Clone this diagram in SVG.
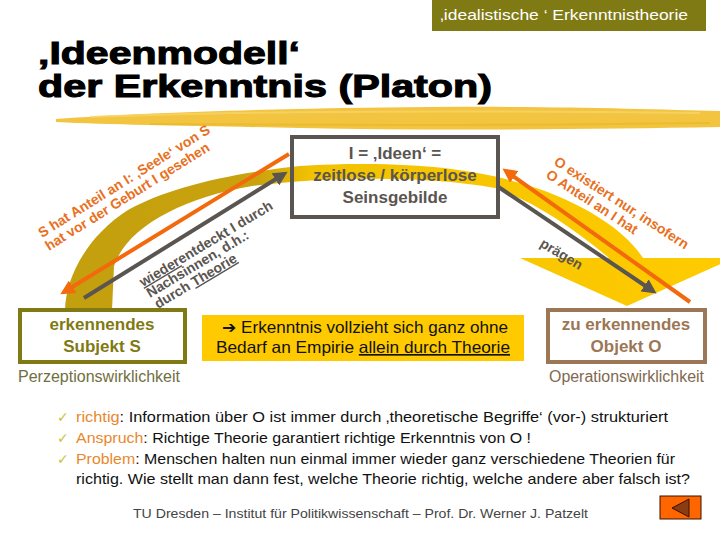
<svg xmlns="http://www.w3.org/2000/svg" width="720" height="540" viewBox="0 0 720 540">
<style>
.title{font-family:"Liberation Sans",Arial,sans-serif;font-weight:bold;font-size:32px;fill:#000;stroke:#000;stroke-width:1.1px}
.rot{font-family:"Liberation Sans",Arial,sans-serif;font-weight:bold;font-size:14px}
.org{fill:#e8701e}
.gry{fill:#5a5550}
.boxt{font-family:"Liberation Sans",Arial,sans-serif;font-weight:bold;font-size:17px;text-anchor:middle}
.body{font-family:"Liberation Sans",Arial,sans-serif;font-size:15px;fill:#111}
.hl{fill:#e8882c}
.chk{font-family:"DejaVu Sans",sans-serif;font-size:14px;fill:#c8c43c}
.wk{font-family:"Liberation Sans",Arial,sans-serif;font-size:16px}
.ul{text-decoration:underline}
</style>
<defs>
<linearGradient id="arcg" gradientUnits="userSpaceOnUse" x1="60" y1="0" x2="720" y2="0">
<stop offset="0" stop-color="#c49f0e"/>
<stop offset="0.3" stop-color="#c9a30e"/>
<stop offset="0.38" stop-color="#f2c200"/>
<stop offset="1" stop-color="#ffcb00"/>
</linearGradient>
<marker id="ao" viewBox="0 0 10 10" refX="7" refY="5" markerWidth="3.6" markerHeight="3.6" orient="auto"><path d="M0,0 L10,5 L0,10 z" fill="#f26a0c"/></marker>
<marker id="ag" viewBox="0 0 10 10" refX="7" refY="5" markerWidth="3.6" markerHeight="3.6" orient="auto"><path d="M0,0 L10,5 L0,10 z" fill="#5a5550"/></marker>
</defs>

<!-- header tab -->
<g id="header">
<rect x="432" y="0" width="274" height="31" fill="#7f7a14"/>
<text x="440" y="20" font-family="'Liberation Sans',Arial,sans-serif" font-size="15" fill="#fff" textLength="248" lengthAdjust="spacingAndGlyphs">‚idealistische ‘ Erkenntnistheorie</text>
</g>

<!-- title -->
<g id="title">
<text class="title" x="38" y="64" textLength="262" lengthAdjust="spacingAndGlyphs">‚Ideenmodell‘</text>
<text class="title" x="38" y="97" textLength="454" lengthAdjust="spacingAndGlyphs">der Erkenntnis (Platon)</text>
</g>

<!-- brush stroke -->
<g id="brush">
<path d="M56,119 C150,112 300,108 430,107 C550,106 650,109 720,111 L720,127 C600,129 450,131 300,128 C200,126 120,125 56,122 Z" fill="#f2c440"/>
<path d="M90,117 C250,111 450,110 700,113" stroke="#f7d468" stroke-width="2" fill="none" opacity="0.8"/>
<path d="M150,124 C300,125 500,126 710,123" stroke="#e8b82a" stroke-width="2" fill="none" opacity="0.7"/>
</g>

<!-- big curved arrow -->
<g id="arc">
<path d="M65,310 C66,274 90,234 128,210 C168,188 226,174 300,166 C400,160 470,168 520,183 C570,197 622,225 643,258 L734,258 L627,306 L520,258 L609,258 C570,225 530,200 495,188 C430,176 330,176 252,186 C182,198 127,227 114,266 L112,310 Z" fill="url(#arcg)"/>
</g>

<!-- nodes -->
<g id="ideen">
<rect x="292" y="137" width="206" height="80" fill="none" stroke="#5a5550" stroke-width="4"/>
<text class="boxt gry" x="395" y="159" font-size="18">I = ‚Ideen‘ =</text>
<text class="boxt gry" x="395" y="181" font-size="18">zeitlose / körperlose</text>
<text class="boxt gry" x="395" y="203" font-size="18">Seinsgebilde</text>
</g>

<g id="subjekt">
<rect x="20" y="310" width="165" height="52" fill="#fff" stroke="#7f7a14" stroke-width="4"/>
<text class="boxt" x="102" y="330" fill="#7f7a14">erkennendes</text>
<text class="boxt" x="102" y="352" fill="#7f7a14">Subjekt S</text>
<text class="wk" x="18" y="382" fill="#707040" textLength="162" lengthAdjust="spacingAndGlyphs">Perzeptionswirklichkeit</text>
</g>

<g id="objekt">
<rect x="548" y="310" width="157" height="52" fill="#fff" stroke="#9c7655" stroke-width="4"/>
<text class="boxt" x="626" y="330" fill="#9c7655">zu erkennendes</text>
<text class="boxt" x="626" y="352" fill="#9c7655">Objekt O</text>
<text class="wk" x="704" y="382" fill="#80694e" text-anchor="end" textLength="155" lengthAdjust="spacingAndGlyphs">Operationswirklichkeit</text>
</g>

<g id="empirie">
<rect x="202" y="315" width="322" height="46" fill="#ffcb00"/>
<text x="222" y="333" font-family="'Liberation Sans','DejaVu Sans',Arial,sans-serif" font-size="16.5" fill="#111" textLength="286" lengthAdjust="spacingAndGlyphs">➔ Erkenntnis vollzieht sich ganz ohne</text>
<text x="216" y="353" font-family="'Liberation Sans',Arial,sans-serif" font-size="16.5" fill="#111" textLength="294" lengthAdjust="spacingAndGlyphs">Bedarf an Empirie <tspan class="ul">allein durch Theorie</tspan></text>
</g>

<!-- connectors -->
<g id="connectors" fill="none" stroke-width="4">
<path d="M289,154 L64,292" stroke="#f26a0c" marker-end="url(#ao)"/>
<path d="M84,298 L284,174" stroke="#5a5550" marker-end="url(#ag)"/>
<path d="M690,302 L506,171" stroke="#f26a0c" marker-end="url(#ao)"/>
<path d="M497,186 L653,291" stroke="#5a5550" marker-end="url(#ag)"/>
</g>

<!-- connector labels -->
<g id="label-s" class="rot org">
<text transform="translate(42,238) rotate(-32)">S hat Anteil an I: ‚Seele‘ von S</text>
<text transform="translate(49,251) rotate(-32)">hat vor der Geburt I gesehen</text>
</g>
<g id="label-w" class="rot gry">
<text transform="translate(143,287) rotate(-31)"><tspan class="ul">wieder</tspan>entdeckt I durch</text>
<text transform="translate(150,298) rotate(-31)">Nachsinnen, d.h.:</text>
<text transform="translate(158,309) rotate(-31)">durch <tspan class="ul">Theorie</tspan></text>
</g>
<g id="label-o" class="rot org">
<text transform="translate(553,164) rotate(33)">O existiert nur, insofern</text>
<text transform="translate(545,177) rotate(33)">O Anteil an I hat</text>
</g>
<g id="label-p" class="rot gry">
<text transform="translate(539,246) rotate(31)">prägen</text>
</g>

<!-- bullets -->
<g id="bullets">
<text class="chk" x="57" y="422">✓</text>
<text class="chk" x="57" y="443">✓</text>
<text class="chk" x="57" y="464">✓</text>
<text class="body" x="76" y="422" textLength="592" lengthAdjust="spacingAndGlyphs"><tspan class="hl">richtig</tspan>: Information über O ist immer durch ‚theoretische Begriffe‘ (vor-) strukturiert</text>
<text class="body" x="76" y="443" textLength="455" lengthAdjust="spacingAndGlyphs"><tspan class="hl">Anspruch</tspan>: Richtige Theorie garantiert richtige Erkenntnis von O !</text>
<text class="body" x="76" y="464" textLength="599" lengthAdjust="spacingAndGlyphs"><tspan class="hl">Problem</tspan>: Menschen halten nun einmal immer wieder ganz verschiedene Theorien für</text>
<text class="body" x="76" y="484" textLength="614" lengthAdjust="spacingAndGlyphs">richtig. Wie stellt man dann fest, welche Theorie richtig, welche andere aber falsch ist?</text>
</g>

<!-- footer -->
<g id="footer">
<text x="133" y="518" font-family="'Liberation Sans',Arial,sans-serif" font-size="13" fill="#444" textLength="455" lengthAdjust="spacingAndGlyphs">TU Dresden – Institut für Politikwissenschaft – Prof. Dr. Werner J. Patzelt</text>
</g>
<g id="back-button">
<rect x="660" y="496" width="41" height="23" fill="#ff6600" stroke="#3a1000" stroke-width="1"/>
<polygon points="672,508 689,499 689,517" fill="#8b3c10" stroke="#3a1000" stroke-width="1"/>
</g>
</svg>
